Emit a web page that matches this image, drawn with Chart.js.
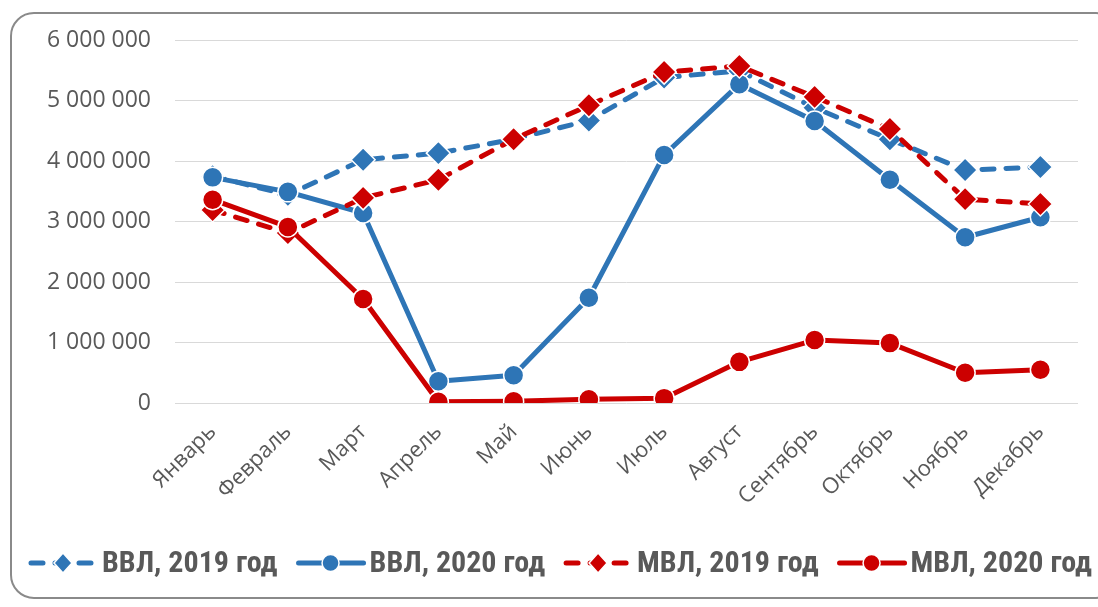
<!DOCTYPE html>
<html>
<head>
<meta charset="utf-8">
<script src="https://cdn.jsdelivr.net/npm/chart.js@4"></script>
<style>
  html, body { margin: 0; padding: 0; background: #fff; overflow: hidden; }
  #frame { position: absolute; left: 10px; top: 12px; width: 1110px; height: 587px;
           border: 2px solid #8a8a8a; border-radius: 24px; box-sizing: border-box; }
  #wrap { position: absolute; left: 0; top: 0; width: 1098px; height: 607px; }
</style>
</head>
<body>
<div id="frame"></div>
<div id="wrap"><canvas id="c" width="1098" height="607"></canvas></div>
<script>
const months = ['Январь','Февраль','Март','Апрель','Май','Июнь','Июль','Август','Сентябрь','Октябрь','Ноябрь','Декабрь'];
const seriesNames = ['ВВЛ, 2019 год','ВВЛ, 2020 год','МВЛ, 2019 год','МВЛ, 2020 год'];
const vvl2019 = [3750000, 3440000, 4020000, 4130000, 4360000, 4670000, 5380000, 5490000, 4880000, 4360000, 3850000, 3900000];
const vvl2020 = [3730000, 3490000, 3140000, 360000, 460000, 1740000, 4100000, 5270000, 4660000, 3690000, 2740000, 3070000];
const mvl2019 = [3190000, 2810000, 3390000, 3690000, 4360000, 4920000, 5470000, 5570000, 5060000, 4530000, 3370000, 3290000];
const mvl2020 = [3360000, 2910000, 1720000, 20000, 30000, 60000, 80000, 680000, 1040000, 990000, 500000, 550000];
const yTicks = [0, 1000000, 2000000, 3000000, 4000000, 5000000, 6000000];

const BLUE = '#2E75B6';
const RED = '#CC0000';
const TXT = '#595959';
const FONT = "'Open Sans', 'Noto Sans', sans-serif";

function mk(label, data, color, dashed, diamond, order) {
  return {
    label, data, order,
    borderColor: color, backgroundColor: color,
    borderWidth: 5,
    borderDash: dashed ? [12, 12] : [],
    borderCapStyle: 'round',
    borderJoinStyle: 'round',
    pointStyle: diamond ? 'rectRot' : 'circle',
    pointRadius: diamond ? 12 : 10,
    pointHoverRadius: diamond ? 12 : 10,
    pointBorderColor: '#ffffff',
    pointBorderWidth: 1.5,
    pointBackgroundColor: color,
    tension: 0,
    fill: false
  };
}

const legendPlugin = {
  id: 'customLegend',
  afterDraw(chart) {
    const ctx = chart.ctx;
    const y = 563;
    let x = 28;
    ctx.save();
    ctx.font = "bold 30px 'Liberation Sans Narrow', 'Roboto Condensed', 'Roboto', sans-serif";
    ctx.textBaseline = 'middle';
    chart.data.datasets.forEach((ds) => {
      ctx.strokeStyle = ds.borderColor;
      ctx.lineWidth = 5;
      ctx.lineCap = 'round';
      ctx.setLineDash(ds.borderDash.length ? [12, 12] : []);
      ctx.beginPath();
      ctx.moveTo(x + 3, y);
      ctx.lineTo(x + 68, y);
      ctx.stroke();
      ctx.setLineDash([]);
      ctx.fillStyle = ds.borderColor;
      ctx.strokeStyle = '#fff';
      ctx.lineWidth = 1.5;
      ctx.beginPath();
      if (ds.pointStyle === 'rectRot') {
        ctx.moveTo(x + 35, y - 10); ctx.lineTo(x + 44, y); ctx.lineTo(x + 35, y + 10); ctx.lineTo(x + 26, y);
      } else {
        ctx.arc(x + 35, y, 8.5, 0, Math.PI * 2);
      }
      ctx.closePath();
      ctx.fill(); ctx.stroke();
      ctx.fillStyle = TXT;
      ctx.textAlign = 'left';
      ctx.fillText(ds.label, x + 74, y + 1);
      x += 74 + ctx.measureText(ds.label).width + 18;
    });
    ctx.restore();
  }
};

new Chart(document.getElementById('c'), {
  type: 'line',
  data: {
    labels: months,
    datasets: [
      mk(seriesNames[0], vvl2019, BLUE, true, true, 4),
      mk(seriesNames[1], vvl2020, BLUE, false, false, 3),
      mk(seriesNames[2], mvl2019, RED, true, true, 2),
      mk(seriesNames[3], mvl2020, RED, false, false, 1)
    ]
  },
  options: {
    responsive: false,
    animation: false,
    devicePixelRatio: 1,
    layout: { padding: { top: 40, right: 20, left: 0, bottom: 0 } },
    plugins: { legend: { display: false }, tooltip: { enabled: false } },
    scales: {
      x: {
        offset: true,
        grid: { display: false, drawTicks: false },
        border: { display: false },
        ticks: {
          color: TXT, font: { family: FONT, size: 22 },
          maxRotation: 45, minRotation: 45, padding: 16, autoSkip: false
        },
        afterFit(s) { s.height = 204; }
      },
      y: {
        min: 0, max: 6000000,
        afterBuildTicks(s) { s.ticks = yTicks.map(v => ({ value: v })); },
        grid: { color: '#D9D9D9', lineWidth: 1, drawTicks: false },
        border: { display: false },
        ticks: {
          color: TXT, font: { family: FONT, size: 23 }, padding: 24,
          callback: v => String(v).replace(/\B(?=(\d{3})+(?!\d))/g, ' ')
        },
        afterFit(s) { s.width = 175; }
      }
    }
  },
  plugins: [legendPlugin]
});
</script>
</body>
</html>
